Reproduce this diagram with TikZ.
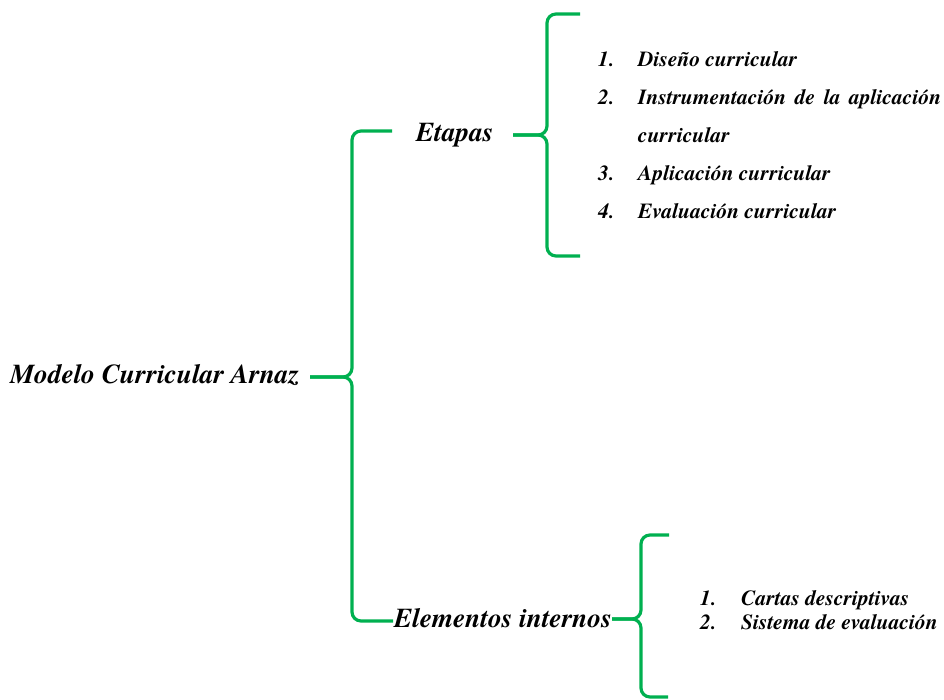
\documentclass[tikz,border=0pt]{standalone}
\usepackage{fontspec}
\setmainfont{TeX Gyre Termes}
\definecolor{brgreen}{RGB}{0,176,80}
\begin{document}
\begin{tikzpicture}[x=1pt,y=-1pt,
  brace/.style={draw=brgreen, line width=3.2pt, rounded corners=9pt},
  big/.style={font=\fontsize{27.3}{30}\selectfont\bfseries\itshape, inner sep=0pt, anchor=base west},
  item/.style={font=\fontsize{21.5}{24}\selectfont\bfseries\itshape, inner sep=0pt, anchor=base west}]
\useasboundingbox (0,0) rectangle (944,700);
% main labels
\node[big] (modelo) at (10,383) {Modelo Curricular Arnaz};
\node[big] (etapas) at (416,142) {Etapas};
\node[big] (elem) at (394,627) {Elementos internos};
% Etapas list
\node[item] (n1) at (598,67) {1.};
\node[item] (t1) at (638,67) {Diseño curricular};
\node[item] (n2) at (598,105) {2.};
\node[item] (t2) at (638,105) {\makebox[303pt][s]{Instrumentación de la aplicación}};
\node[item] (t2b) at (638,143) {curricular};
\node[item] (n3) at (598,181) {3.};
\node[item] (t3) at (638,181) {Aplicación curricular};
\node[item] (n4) at (598,219) {4.};
\node[item] (t4) at (638,219) {Evaluación curricular};
% Elementos list
\node[item] (m1) at (700,605) {1.};
\node[item] (s1) at (741,605) {Cartas descriptivas};
\node[item] (m2) at (700,629) {2.};
\node[item] (s2) at (741,629) {Sistema de evaluación};
% main brace
\coordinate (mTop) at (392,131);
\coordinate (mTopC) at (352,131);
\coordinate (mMid) at (352,377);
\coordinate (mTip) at (310,377);
\coordinate (mBotC) at (352,621);
\coordinate (mBot) at (393,621);
\draw[brace] (mTop) -- (mTopC) -- (mMid) -- (mTip);
\draw[brace] (mBot) -- (mBotC) -- (mMid) -- (mTip);
% Etapas brace
\coordinate (eTop) at (580,14);
\coordinate (eTopC) at (547,14);
\coordinate (eMid) at (547,135);
\coordinate (eTip) at (513,135);
\coordinate (eBotC) at (547,256);
\coordinate (eBot) at (580,256);
\draw[brace] (eTop) -- (eTopC) -- (eMid) -- (eTip);
\draw[brace] (eBot) -- (eBotC) -- (eMid) -- (eTip);
% Elementos brace
\coordinate (iTop) at (669,535);
\coordinate (iTopC) at (641,535);
\coordinate (iMid) at (641,619);
\coordinate (iTip) at (612,619);
\coordinate (iBotC) at (641,697);
\coordinate (iBot) at (668,697);
\draw[brace] (iTop) -- (iTopC) -- (iMid) -- (iTip);
\draw[brace] (iBot) -- (iBotC) -- (iMid) -- (iTip);
\end{tikzpicture}
\end{document}
